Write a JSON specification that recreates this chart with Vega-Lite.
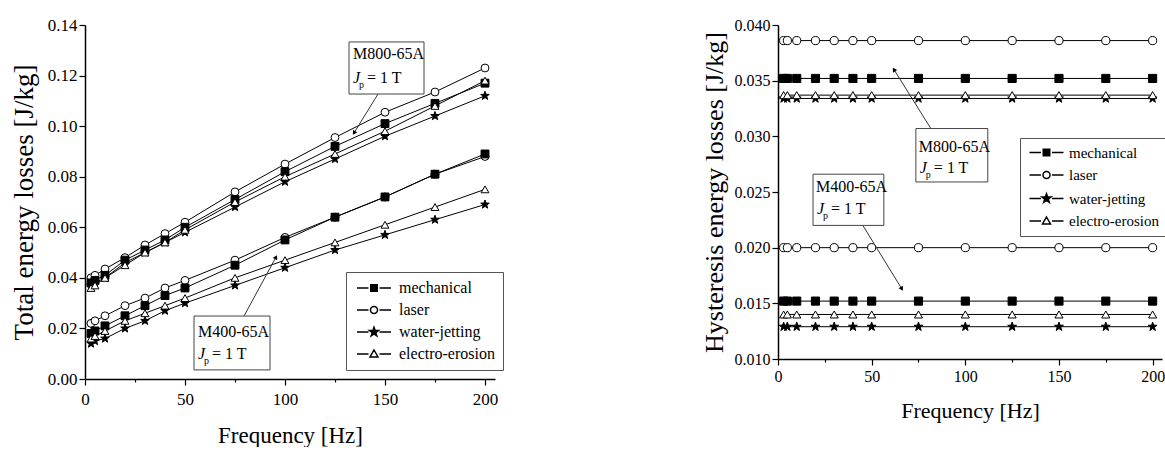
{
  "$schema": "https://vega.github.io/schema/vega-lite/v6.json",
  "padding": {"left": 10, "top": 16, "right": 0, "bottom": 0},
  "spacing": 197,
  "datasets": {
    "total": [
      {"steel":"M800-65A","method":"laser","freq":3,"loss":0.040},
      {"steel":"M800-65A","method":"laser","freq":5,"loss":0.041},
      {"steel":"M800-65A","method":"laser","freq":10,"loss":0.0435},
      {"steel":"M800-65A","method":"laser","freq":20,"loss":0.048},
      {"steel":"M800-65A","method":"laser","freq":30,"loss":0.053},
      {"steel":"M800-65A","method":"laser","freq":40,"loss":0.0575},
      {"steel":"M800-65A","method":"laser","freq":50,"loss":0.062},
      {"steel":"M800-65A","method":"laser","freq":75,"loss":0.074},
      {"steel":"M800-65A","method":"laser","freq":100,"loss":0.085},
      {"steel":"M800-65A","method":"laser","freq":125,"loss":0.0955},
      {"steel":"M800-65A","method":"laser","freq":150,"loss":0.1055},
      {"steel":"M800-65A","method":"laser","freq":175,"loss":0.1135},
      {"steel":"M800-65A","method":"laser","freq":200,"loss":0.123},
      {"steel":"M800-65A","method":"mechanical","freq":3,"loss":0.038},
      {"steel":"M800-65A","method":"mechanical","freq":5,"loss":0.039},
      {"steel":"M800-65A","method":"mechanical","freq":10,"loss":0.041},
      {"steel":"M800-65A","method":"mechanical","freq":20,"loss":0.047},
      {"steel":"M800-65A","method":"mechanical","freq":30,"loss":0.051},
      {"steel":"M800-65A","method":"mechanical","freq":40,"loss":0.055},
      {"steel":"M800-65A","method":"mechanical","freq":50,"loss":0.060},
      {"steel":"M800-65A","method":"mechanical","freq":75,"loss":0.071},
      {"steel":"M800-65A","method":"mechanical","freq":100,"loss":0.082},
      {"steel":"M800-65A","method":"mechanical","freq":125,"loss":0.092},
      {"steel":"M800-65A","method":"mechanical","freq":150,"loss":0.101},
      {"steel":"M800-65A","method":"mechanical","freq":175,"loss":0.109},
      {"steel":"M800-65A","method":"mechanical","freq":200,"loss":0.117},
      {"steel":"M800-65A","method":"water-jetting","freq":3,"loss":0.037},
      {"steel":"M800-65A","method":"water-jetting","freq":5,"loss":0.038},
      {"steel":"M800-65A","method":"water-jetting","freq":10,"loss":0.040},
      {"steel":"M800-65A","method":"water-jetting","freq":20,"loss":0.046},
      {"steel":"M800-65A","method":"water-jetting","freq":30,"loss":0.050},
      {"steel":"M800-65A","method":"water-jetting","freq":40,"loss":0.054},
      {"steel":"M800-65A","method":"water-jetting","freq":50,"loss":0.058},
      {"steel":"M800-65A","method":"water-jetting","freq":75,"loss":0.068},
      {"steel":"M800-65A","method":"water-jetting","freq":100,"loss":0.078},
      {"steel":"M800-65A","method":"water-jetting","freq":125,"loss":0.087},
      {"steel":"M800-65A","method":"water-jetting","freq":150,"loss":0.096},
      {"steel":"M800-65A","method":"water-jetting","freq":175,"loss":0.104},
      {"steel":"M800-65A","method":"water-jetting","freq":200,"loss":0.112},
      {"steel":"M800-65A","method":"electro-erosion","freq":3,"loss":0.036},
      {"steel":"M800-65A","method":"electro-erosion","freq":5,"loss":0.037},
      {"steel":"M800-65A","method":"electro-erosion","freq":10,"loss":0.040},
      {"steel":"M800-65A","method":"electro-erosion","freq":20,"loss":0.045},
      {"steel":"M800-65A","method":"electro-erosion","freq":30,"loss":0.050},
      {"steel":"M800-65A","method":"electro-erosion","freq":40,"loss":0.054},
      {"steel":"M800-65A","method":"electro-erosion","freq":50,"loss":0.059},
      {"steel":"M800-65A","method":"electro-erosion","freq":75,"loss":0.070},
      {"steel":"M800-65A","method":"electro-erosion","freq":100,"loss":0.080},
      {"steel":"M800-65A","method":"electro-erosion","freq":125,"loss":0.089},
      {"steel":"M800-65A","method":"electro-erosion","freq":150,"loss":0.098},
      {"steel":"M800-65A","method":"electro-erosion","freq":175,"loss":0.108},
      {"steel":"M800-65A","method":"electro-erosion","freq":200,"loss":0.118},
      {"steel":"M400-65A","method":"laser","freq":3,"loss":0.022},
      {"steel":"M400-65A","method":"laser","freq":5,"loss":0.023},
      {"steel":"M400-65A","method":"laser","freq":10,"loss":0.025},
      {"steel":"M400-65A","method":"laser","freq":20,"loss":0.029},
      {"steel":"M400-65A","method":"laser","freq":30,"loss":0.032},
      {"steel":"M400-65A","method":"laser","freq":40,"loss":0.036},
      {"steel":"M400-65A","method":"laser","freq":50,"loss":0.039},
      {"steel":"M400-65A","method":"laser","freq":75,"loss":0.047},
      {"steel":"M400-65A","method":"laser","freq":100,"loss":0.056},
      {"steel":"M400-65A","method":"laser","freq":125,"loss":0.064},
      {"steel":"M400-65A","method":"laser","freq":150,"loss":0.072},
      {"steel":"M400-65A","method":"laser","freq":175,"loss":0.081},
      {"steel":"M400-65A","method":"laser","freq":200,"loss":0.088},
      {"steel":"M400-65A","method":"mechanical","freq":3,"loss":0.018},
      {"steel":"M400-65A","method":"mechanical","freq":5,"loss":0.019},
      {"steel":"M400-65A","method":"mechanical","freq":10,"loss":0.021},
      {"steel":"M400-65A","method":"mechanical","freq":20,"loss":0.025},
      {"steel":"M400-65A","method":"mechanical","freq":30,"loss":0.029},
      {"steel":"M400-65A","method":"mechanical","freq":40,"loss":0.033},
      {"steel":"M400-65A","method":"mechanical","freq":50,"loss":0.036},
      {"steel":"M400-65A","method":"mechanical","freq":75,"loss":0.045},
      {"steel":"M400-65A","method":"mechanical","freq":100,"loss":0.055},
      {"steel":"M400-65A","method":"mechanical","freq":125,"loss":0.064},
      {"steel":"M400-65A","method":"mechanical","freq":150,"loss":0.072},
      {"steel":"M400-65A","method":"mechanical","freq":175,"loss":0.081},
      {"steel":"M400-65A","method":"mechanical","freq":200,"loss":0.089},
      {"steel":"M400-65A","method":"water-jetting","freq":3,"loss":0.014},
      {"steel":"M400-65A","method":"water-jetting","freq":5,"loss":0.015},
      {"steel":"M400-65A","method":"water-jetting","freq":10,"loss":0.016},
      {"steel":"M400-65A","method":"water-jetting","freq":20,"loss":0.020},
      {"steel":"M400-65A","method":"water-jetting","freq":30,"loss":0.023},
      {"steel":"M400-65A","method":"water-jetting","freq":40,"loss":0.027},
      {"steel":"M400-65A","method":"water-jetting","freq":50,"loss":0.030},
      {"steel":"M400-65A","method":"water-jetting","freq":75,"loss":0.037},
      {"steel":"M400-65A","method":"water-jetting","freq":100,"loss":0.044},
      {"steel":"M400-65A","method":"water-jetting","freq":125,"loss":0.051},
      {"steel":"M400-65A","method":"water-jetting","freq":150,"loss":0.057},
      {"steel":"M400-65A","method":"water-jetting","freq":175,"loss":0.063},
      {"steel":"M400-65A","method":"water-jetting","freq":200,"loss":0.069},
      {"steel":"M400-65A","method":"electro-erosion","freq":3,"loss":0.016},
      {"steel":"M400-65A","method":"electro-erosion","freq":5,"loss":0.017},
      {"steel":"M400-65A","method":"electro-erosion","freq":10,"loss":0.019},
      {"steel":"M400-65A","method":"electro-erosion","freq":20,"loss":0.023},
      {"steel":"M400-65A","method":"electro-erosion","freq":30,"loss":0.026},
      {"steel":"M400-65A","method":"electro-erosion","freq":40,"loss":0.029},
      {"steel":"M400-65A","method":"electro-erosion","freq":50,"loss":0.032},
      {"steel":"M400-65A","method":"electro-erosion","freq":75,"loss":0.040},
      {"steel":"M400-65A","method":"electro-erosion","freq":100,"loss":0.047},
      {"steel":"M400-65A","method":"electro-erosion","freq":125,"loss":0.054},
      {"steel":"M400-65A","method":"electro-erosion","freq":150,"loss":0.061},
      {"steel":"M400-65A","method":"electro-erosion","freq":175,"loss":0.068},
      {"steel":"M400-65A","method":"electro-erosion","freq":200,"loss":0.075}
    ],
    "hysteresis": [
      {"steel":"M800-65A","method":"laser","freq":3,"loss":0.0386},
      {"steel":"M800-65A","method":"laser","freq":5,"loss":0.0386},
      {"steel":"M800-65A","method":"laser","freq":10,"loss":0.0386},
      {"steel":"M800-65A","method":"laser","freq":20,"loss":0.0386},
      {"steel":"M800-65A","method":"laser","freq":30,"loss":0.0386},
      {"steel":"M800-65A","method":"laser","freq":40,"loss":0.0386},
      {"steel":"M800-65A","method":"laser","freq":50,"loss":0.0386},
      {"steel":"M800-65A","method":"laser","freq":75,"loss":0.0386},
      {"steel":"M800-65A","method":"laser","freq":100,"loss":0.0386},
      {"steel":"M800-65A","method":"laser","freq":125,"loss":0.0386},
      {"steel":"M800-65A","method":"laser","freq":150,"loss":0.0386},
      {"steel":"M800-65A","method":"laser","freq":175,"loss":0.0386},
      {"steel":"M800-65A","method":"laser","freq":200,"loss":0.0386},
      {"steel":"M800-65A","method":"mechanical","freq":3,"loss":0.0352},
      {"steel":"M800-65A","method":"mechanical","freq":5,"loss":0.0352},
      {"steel":"M800-65A","method":"mechanical","freq":10,"loss":0.0352},
      {"steel":"M800-65A","method":"mechanical","freq":20,"loss":0.0352},
      {"steel":"M800-65A","method":"mechanical","freq":30,"loss":0.0352},
      {"steel":"M800-65A","method":"mechanical","freq":40,"loss":0.0352},
      {"steel":"M800-65A","method":"mechanical","freq":50,"loss":0.0352},
      {"steel":"M800-65A","method":"mechanical","freq":75,"loss":0.0352},
      {"steel":"M800-65A","method":"mechanical","freq":100,"loss":0.0352},
      {"steel":"M800-65A","method":"mechanical","freq":125,"loss":0.0352},
      {"steel":"M800-65A","method":"mechanical","freq":150,"loss":0.0352},
      {"steel":"M800-65A","method":"mechanical","freq":175,"loss":0.0352},
      {"steel":"M800-65A","method":"mechanical","freq":200,"loss":0.0352},
      {"steel":"M800-65A","method":"water-jetting","freq":3,"loss":0.0334},
      {"steel":"M800-65A","method":"water-jetting","freq":5,"loss":0.0334},
      {"steel":"M800-65A","method":"water-jetting","freq":10,"loss":0.0334},
      {"steel":"M800-65A","method":"water-jetting","freq":20,"loss":0.0334},
      {"steel":"M800-65A","method":"water-jetting","freq":30,"loss":0.0334},
      {"steel":"M800-65A","method":"water-jetting","freq":40,"loss":0.0334},
      {"steel":"M800-65A","method":"water-jetting","freq":50,"loss":0.0334},
      {"steel":"M800-65A","method":"water-jetting","freq":75,"loss":0.0334},
      {"steel":"M800-65A","method":"water-jetting","freq":100,"loss":0.0334},
      {"steel":"M800-65A","method":"water-jetting","freq":125,"loss":0.0334},
      {"steel":"M800-65A","method":"water-jetting","freq":150,"loss":0.0334},
      {"steel":"M800-65A","method":"water-jetting","freq":175,"loss":0.0334},
      {"steel":"M800-65A","method":"water-jetting","freq":200,"loss":0.0334},
      {"steel":"M800-65A","method":"electro-erosion","freq":3,"loss":0.0337},
      {"steel":"M800-65A","method":"electro-erosion","freq":5,"loss":0.0337},
      {"steel":"M800-65A","method":"electro-erosion","freq":10,"loss":0.0337},
      {"steel":"M800-65A","method":"electro-erosion","freq":20,"loss":0.0337},
      {"steel":"M800-65A","method":"electro-erosion","freq":30,"loss":0.0337},
      {"steel":"M800-65A","method":"electro-erosion","freq":40,"loss":0.0337},
      {"steel":"M800-65A","method":"electro-erosion","freq":50,"loss":0.0337},
      {"steel":"M800-65A","method":"electro-erosion","freq":75,"loss":0.0337},
      {"steel":"M800-65A","method":"electro-erosion","freq":100,"loss":0.0337},
      {"steel":"M800-65A","method":"electro-erosion","freq":125,"loss":0.0337},
      {"steel":"M800-65A","method":"electro-erosion","freq":150,"loss":0.0337},
      {"steel":"M800-65A","method":"electro-erosion","freq":175,"loss":0.0337},
      {"steel":"M800-65A","method":"electro-erosion","freq":200,"loss":0.0337},
      {"steel":"M400-65A","method":"laser","freq":3,"loss":0.0200},
      {"steel":"M400-65A","method":"laser","freq":5,"loss":0.0200},
      {"steel":"M400-65A","method":"laser","freq":10,"loss":0.0200},
      {"steel":"M400-65A","method":"laser","freq":20,"loss":0.0200},
      {"steel":"M400-65A","method":"laser","freq":30,"loss":0.0200},
      {"steel":"M400-65A","method":"laser","freq":40,"loss":0.0200},
      {"steel":"M400-65A","method":"laser","freq":50,"loss":0.0200},
      {"steel":"M400-65A","method":"laser","freq":75,"loss":0.0200},
      {"steel":"M400-65A","method":"laser","freq":100,"loss":0.0200},
      {"steel":"M400-65A","method":"laser","freq":125,"loss":0.0200},
      {"steel":"M400-65A","method":"laser","freq":150,"loss":0.0200},
      {"steel":"M400-65A","method":"laser","freq":175,"loss":0.0200},
      {"steel":"M400-65A","method":"laser","freq":200,"loss":0.0200},
      {"steel":"M400-65A","method":"mechanical","freq":3,"loss":0.0152},
      {"steel":"M400-65A","method":"mechanical","freq":5,"loss":0.0152},
      {"steel":"M400-65A","method":"mechanical","freq":10,"loss":0.0152},
      {"steel":"M400-65A","method":"mechanical","freq":20,"loss":0.0152},
      {"steel":"M400-65A","method":"mechanical","freq":30,"loss":0.0152},
      {"steel":"M400-65A","method":"mechanical","freq":40,"loss":0.0152},
      {"steel":"M400-65A","method":"mechanical","freq":50,"loss":0.0152},
      {"steel":"M400-65A","method":"mechanical","freq":75,"loss":0.0152},
      {"steel":"M400-65A","method":"mechanical","freq":100,"loss":0.0152},
      {"steel":"M400-65A","method":"mechanical","freq":125,"loss":0.0152},
      {"steel":"M400-65A","method":"mechanical","freq":150,"loss":0.0152},
      {"steel":"M400-65A","method":"mechanical","freq":175,"loss":0.0152},
      {"steel":"M400-65A","method":"mechanical","freq":200,"loss":0.0152},
      {"steel":"M400-65A","method":"water-jetting","freq":3,"loss":0.0129},
      {"steel":"M400-65A","method":"water-jetting","freq":5,"loss":0.0129},
      {"steel":"M400-65A","method":"water-jetting","freq":10,"loss":0.0129},
      {"steel":"M400-65A","method":"water-jetting","freq":20,"loss":0.0129},
      {"steel":"M400-65A","method":"water-jetting","freq":30,"loss":0.0129},
      {"steel":"M400-65A","method":"water-jetting","freq":40,"loss":0.0129},
      {"steel":"M400-65A","method":"water-jetting","freq":50,"loss":0.0129},
      {"steel":"M400-65A","method":"water-jetting","freq":75,"loss":0.0129},
      {"steel":"M400-65A","method":"water-jetting","freq":100,"loss":0.0129},
      {"steel":"M400-65A","method":"water-jetting","freq":125,"loss":0.0129},
      {"steel":"M400-65A","method":"water-jetting","freq":150,"loss":0.0129},
      {"steel":"M400-65A","method":"water-jetting","freq":175,"loss":0.0129},
      {"steel":"M400-65A","method":"water-jetting","freq":200,"loss":0.0129},
      {"steel":"M400-65A","method":"electro-erosion","freq":3,"loss":0.0140},
      {"steel":"M400-65A","method":"electro-erosion","freq":5,"loss":0.0140},
      {"steel":"M400-65A","method":"electro-erosion","freq":10,"loss":0.0140},
      {"steel":"M400-65A","method":"electro-erosion","freq":20,"loss":0.0140},
      {"steel":"M400-65A","method":"electro-erosion","freq":30,"loss":0.0140},
      {"steel":"M400-65A","method":"electro-erosion","freq":40,"loss":0.0140},
      {"steel":"M400-65A","method":"electro-erosion","freq":50,"loss":0.0140},
      {"steel":"M400-65A","method":"electro-erosion","freq":75,"loss":0.0140},
      {"steel":"M400-65A","method":"electro-erosion","freq":100,"loss":0.0140},
      {"steel":"M400-65A","method":"electro-erosion","freq":125,"loss":0.0140},
      {"steel":"M400-65A","method":"electro-erosion","freq":150,"loss":0.0140},
      {"steel":"M400-65A","method":"electro-erosion","freq":175,"loss":0.0140},
      {"steel":"M400-65A","method":"electro-erosion","freq":200,"loss":0.0140}
    ],
    "notesTotal": [
      {"steel":"M800-65A","bx1":132,"bx2":169.5,"by1":0.1127,"by2":0.1333,"ty1":0.1285,"ty2":0.119,"ax1":146.5,"ay1":0.1127,"ax2":134.5,"ay2":0.0973},
      {"steel":"M400-65A","bx1":54.5,"bx2":92.5,"by1":0.0036,"by2":0.0249,"ty1":0.0186,"ty2":0.0099,"ax1":79.5,"ay1":0.0249,"ax2":95.5,"ay2":0.0482}
    ],
    "notesHyst": [
      {"steel":"M800-65A","bx1":73.6,"bx2":112,"by1":0.0259,"by2":0.0307,"ty1":0.0290,"ty2":0.0272,"ax1":81.6,"ay1":0.0307,"ax2":61.9,"ay2":0.0360},
      {"steel":"M400-65A","bx1":18.7,"bx2":56.5,"by1":0.0220,"by2":0.0266,"ty1":0.02545,"ty2":0.0235,"ax1":45.3,"ay1":0.0220,"ax2":66.1,"ay2":0.0163}
    ]
  },
  "hconcat": [
    {
      "width": 410,
      "height": 354,
      "resolve": {
        "scale": {"shape": "independent", "fill": "independent"},
        "legend": {"shape": "independent", "fill": "independent"}
      },
      "layer": [
        {
          "data": {"name": "total"},
          "mark": {"type": "line", "color": "black", "strokeWidth": 1},
          "encoding": {
            "x": {
              "field": "freq", "type": "quantitative",
              "scale": {"domain": [0, 205], "nice": false, "zero": false},
              "axis": {
                "title": "Frequency [Hz]",
                "values": [0, 25, 50, 75, 100, 125, 150, 175, 200],
                "labelExpr": "datum.value % 50 === 0 ? datum.label : ''",
                "tickSize": {"condition": {"test": "datum.value % 50 !== 0", "value": 3}, "value": 6},
                "labelFont": "Liberation Serif", "titleFont": "Liberation Serif",
                "labelFontSize": 17, "titleFontSize": 23, "labelPadding": 6, "titlePadding": 17
              }
            },
            "y": {
              "field": "loss", "type": "quantitative",
              "scale": {"domain": [0, 0.14], "nice": false},
              "axis": {
                "title": "Total energy losses [J/kg]",
                "values": [0, 0.01, 0.02, 0.03, 0.04, 0.05, 0.06, 0.07, 0.08, 0.09, 0.1, 0.11, 0.12, 0.13, 0.14],
                "labelExpr": "round(datum.value * 100) % 2 === 0 ? format(datum.value, '.2f') : ''",
                "tickSize": {"condition": {"test": "round(datum.value * 100) % 2 !== 0", "value": 3}, "value": 6},
                "labelFont": "Liberation Serif", "titleFont": "Liberation Serif",
                "labelFontSize": 17, "titleFontSize": 27, "labelPadding": 2, "titlePadding": 9
              }
            },
            "detail": [{"field": "steel"}, {"field": "method"}]
          }
        },
        {
          "data": {"name": "total"},
          "mark": {"type": "point", "filled": true, "stroke": "black", "strokeWidth": 1, "opacity": 1, "size": 62},
          "encoding": {
            "x": {"field": "freq", "type": "quantitative"},
            "y": {"field": "loss", "type": "quantitative"},
            "shape": {
              "field": "method", "type": "nominal",
              "scale": {
                "domain": ["mechanical", "laser", "water-jetting", "electro-erosion"],
                "range": ["square", "circle", "M0,-1.15L0.27,-0.37L1.09,-0.36L0.44,0.14L0.68,0.93L0,0.46L-0.68,0.93L-0.44,0.14L-1.09,-0.36L-0.27,-0.37Z", "triangle-up"]
              },
              "legend": null
            },
            "fill": {
              "field": "method", "type": "nominal",
              "scale": {"domain": ["mechanical", "laser", "water-jetting", "electro-erosion"], "range": ["black", "white", "black", "white"]},
              "legend": null
            }
          }
        },
        {
          "data": {"name": "total"},
          "mark": {"type": "point", "filled": true, "stroke": "black", "strokeWidth": 1, "opacity": 0},
          "encoding": {
            "x": {"field": "freq", "type": "quantitative"},
            "y": {"field": "loss", "type": "quantitative"},
            "shape": {
              "field": "method", "type": "nominal",
              "scale": {
                "domain": ["mechanical", "laser", "water-jetting", "electro-erosion"],
                "range": [
                  "M-3.4,0H-1.1M1.1,0H3.4M-0.65,-0.65H0.65V0.65H-0.65Z",
                  "M-3.4,0H-1.1M1.1,0H3.4M-0.7,0C-0.7,-0.387 -0.387,-0.7 0,-0.7C0.387,-0.7 0.7,-0.387 0.7,0C0.7,0.387 0.387,0.7 0,0.7C-0.387,0.7 -0.7,0.387 -0.7,0Z",
                  "M-3.4,0H-1.1M1.1,0H3.4M0,-0.95L0.22,-0.3L0.9,-0.29L0.36,0.12L0.56,0.77L0,0.38L-0.56,0.77L-0.36,0.12L-0.9,-0.29L-0.22,-0.3Z",
                  "M-3.4,0H-1.1M1.1,0H3.4M0,-0.8L0.8,0.6H-0.8Z"
                ]
              },
              "legend": {
                "title": null, "orient": "none", "legendX": 261, "legendY": 247,
                "padding": 8, "strokeColor": "#555", "fillColor": "white",
                "labelFont": "Liberation Serif", "labelFontSize": 16, "labelColor": "black",
                "symbolSize": 100, "symbolOffset": 12, "labelOffset": 17, "rowPadding": 6,
                "symbolOpacity": 1
              }
            },
            "fill": {
              "field": "method", "type": "nominal",
              "scale": {"domain": ["mechanical", "laser", "water-jetting", "electro-erosion"], "range": ["black", "white", "black", "white"]},
              "legend": {
                "title": null, "orient": "none", "legendX": 261, "legendY": 247,
                "padding": 8, "strokeColor": "#555", "fillColor": "white",
                "labelFont": "Liberation Serif", "labelFontSize": 16, "labelColor": "black",
                "symbolSize": 100, "symbolOffset": 12, "labelOffset": 17, "rowPadding": 6,
                "symbolOpacity": 1
              }
            }
          }
        },
        {
          "data": {"name": "notesTotal"},
          "mark": {"type": "rule", "color": "#333", "strokeWidth": 1},
          "encoding": {
            "x": {"field": "ax1", "type": "quantitative"},
            "y": {"field": "ay1", "type": "quantitative"},
            "x2": {"field": "ax2"},
            "y2": {"field": "ay2"}
          }
        },
        {
          "data": {"name": "notesTotal"},
          "transform": [{"filter": "datum.steel === 'M800-65A'"}],
          "mark": {"type": "point", "shape": "triangle-up", "filled": true, "color": "black", "size": 25, "angle": 211.6, "opacity": 1},
          "encoding": {
            "x": {"field": "ax2", "type": "quantitative"},
            "y": {"field": "ay2", "type": "quantitative"}
          }
        },
        {
          "data": {"name": "notesTotal"},
          "transform": [{"filter": "datum.steel === 'M400-65A'"}],
          "mark": {"type": "point", "shape": "triangle-up", "filled": true, "color": "black", "size": 25, "angle": 28.5, "opacity": 1},
          "encoding": {
            "x": {"field": "ax2", "type": "quantitative"},
            "y": {"field": "ay2", "type": "quantitative"}
          }
        },
        {
          "data": {"name": "notesTotal"},
          "mark": {"type": "rect", "fill": "white", "stroke": "#444", "strokeWidth": 1},
          "encoding": {
            "x": {"field": "bx1", "type": "quantitative"},
            "x2": {"field": "bx2"},
            "y": {"field": "by1", "type": "quantitative"},
            "y2": {"field": "by2"}
          }
        },
        {
          "data": {"name": "notesTotal"},
          "mark": {"type": "text", "align": "left", "baseline": "middle", "dx": 4, "font": "Liberation Serif", "fontSize": 16, "color": "black"},
          "encoding": {
            "x": {"field": "bx1", "type": "quantitative"},
            "y": {"field": "ty1", "type": "quantitative"},
            "text": {"field": "steel"}
          }
        },
        {
          "data": {"name": "notesTotal"},
          "mark": {"type": "text", "align": "left", "baseline": "middle", "dx": 4, "font": "Liberation Serif", "fontSize": 16, "fontStyle": "italic", "color": "black", "text": "J"},
          "encoding": {
            "x": {"field": "bx1", "type": "quantitative"},
            "y": {"field": "ty2", "type": "quantitative"}
          }
        },
        {
          "data": {"name": "notesTotal"},
          "mark": {"type": "text", "align": "left", "baseline": "middle", "dx": 10, "dy": 7, "font": "Liberation Serif", "fontSize": 10, "color": "black", "text": "p"},
          "encoding": {
            "x": {"field": "bx1", "type": "quantitative"},
            "y": {"field": "ty2", "type": "quantitative"}
          }
        },
        {
          "data": {"name": "notesTotal"},
          "mark": {"type": "text", "align": "left", "baseline": "middle", "dx": 18, "font": "Liberation Serif", "fontSize": 16, "color": "black", "text": "= 1 T"},
          "encoding": {
            "x": {"field": "bx1", "type": "quantitative"},
            "y": {"field": "ty2", "type": "quantitative"}
          }
        }
      ]
    },
    {
      "width": 384,
      "height": 334,
      "resolve": {
        "scale": {"shape": "independent", "fill": "independent"},
        "legend": {"shape": "independent", "fill": "independent"}
      },
      "layer": [
        {
          "data": {"name": "hysteresis"},
          "mark": {"type": "line", "color": "black", "strokeWidth": 1},
          "encoding": {
            "x": {
              "field": "freq", "type": "quantitative",
              "scale": {"domain": [0, 205], "nice": false, "zero": false},
              "axis": {
                "title": "Frequency [Hz]",
                "values": [0, 25, 50, 75, 100, 125, 150, 175, 200],
                "labelExpr": "datum.value % 50 === 0 ? datum.label : ''",
                "tickSize": {"condition": {"test": "datum.value % 50 !== 0", "value": 3}, "value": 6},
                "labelFont": "Liberation Serif", "titleFont": "Liberation Serif",
                "labelFontSize": 16, "titleFontSize": 22, "labelPadding": 3, "titlePadding": 16
              }
            },
            "y": {
              "field": "loss", "type": "quantitative",
              "scale": {"domain": [0.01, 0.04], "nice": false, "zero": false},
              "axis": {
                "title": "Hysteresis energy losses [J/kg]",
                "values": [0.01, 0.0125, 0.015, 0.0175, 0.02, 0.0225, 0.025, 0.0275, 0.03, 0.0325, 0.035, 0.0375, 0.04],
                "labelExpr": "round(datum.value * 2000) % 10 === 0 ? format(datum.value, '.3f') : ''",
                "tickSize": {"condition": {"test": "round(datum.value * 2000) % 10 !== 0", "value": 3}, "value": 6},
                "labelFont": "Liberation Serif", "titleFont": "Liberation Serif",
                "labelFontSize": 16, "titleFontSize": 26, "labelPadding": 2, "titlePadding": 7
              }
            },
            "detail": [{"field": "steel"}, {"field": "method"}]
          }
        },
        {
          "data": {"name": "hysteresis"},
          "mark": {"type": "point", "filled": true, "stroke": "black", "strokeWidth": 1, "opacity": 1, "size": 66},
          "encoding": {
            "x": {"field": "freq", "type": "quantitative"},
            "y": {"field": "loss", "type": "quantitative"},
            "shape": {
              "field": "method", "type": "nominal",
              "scale": {
                "domain": ["mechanical", "laser", "water-jetting", "electro-erosion"],
                "range": ["square", "circle", "M0,-1.15L0.27,-0.37L1.09,-0.36L0.44,0.14L0.68,0.93L0,0.46L-0.68,0.93L-0.44,0.14L-1.09,-0.36L-0.27,-0.37Z", "triangle-up"]
              },
              "legend": null
            },
            "fill": {
              "field": "method", "type": "nominal",
              "scale": {"domain": ["mechanical", "laser", "water-jetting", "electro-erosion"], "range": ["black", "white", "black", "white"]},
              "legend": null
            }
          }
        },
        {
          "data": {"name": "hysteresis"},
          "mark": {"type": "point", "filled": true, "stroke": "black", "strokeWidth": 1, "opacity": 0},
          "encoding": {
            "x": {"field": "freq", "type": "quantitative"},
            "y": {"field": "loss", "type": "quantitative"},
            "shape": {
              "field": "method", "type": "nominal",
              "scale": {
                "domain": ["mechanical", "laser", "water-jetting", "electro-erosion"],
                "range": [
                  "M-3.4,0H-1.1M1.1,0H3.4M-0.65,-0.65H0.65V0.65H-0.65Z",
                  "M-3.4,0H-1.1M1.1,0H3.4M-0.7,0C-0.7,-0.387 -0.387,-0.7 0,-0.7C0.387,-0.7 0.7,-0.387 0.7,0C0.7,0.387 0.387,0.7 0,0.7C-0.387,0.7 -0.7,0.387 -0.7,0Z",
                  "M-3.4,0H-1.1M1.1,0H3.4M0,-0.95L0.22,-0.3L0.9,-0.29L0.36,0.12L0.56,0.77L0,0.38L-0.56,0.77L-0.36,0.12L-0.9,-0.29L-0.22,-0.3Z",
                  "M-3.4,0H-1.1M1.1,0H3.4M0,-0.8L0.8,0.6H-0.8Z"
                ]
              },
              "legend": {
                "title": null, "orient": "none", "legendX": 242, "legendY": 113,
                "padding": 7, "strokeColor": "#555", "fillColor": "white",
                "labelFont": "Liberation Serif", "labelFontSize": 15, "labelColor": "black",
                "symbolSize": 100, "symbolOffset": 12, "labelOffset": 15, "rowPadding": 6.5,
                "symbolOpacity": 1
              }
            },
            "fill": {
              "field": "method", "type": "nominal",
              "scale": {"domain": ["mechanical", "laser", "water-jetting", "electro-erosion"], "range": ["black", "white", "black", "white"]},
              "legend": {
                "title": null, "orient": "none", "legendX": 242, "legendY": 113,
                "padding": 7, "strokeColor": "#555", "fillColor": "white",
                "labelFont": "Liberation Serif", "labelFontSize": 15, "labelColor": "black",
                "symbolSize": 100, "symbolOffset": 12, "labelOffset": 15, "rowPadding": 6.5,
                "symbolOpacity": 1
              }
            }
          }
        },
        {
          "data": {"name": "notesHyst"},
          "mark": {"type": "rule", "color": "#333", "strokeWidth": 1},
          "encoding": {
            "x": {"field": "ax1", "type": "quantitative"},
            "y": {"field": "ay1", "type": "quantitative"},
            "x2": {"field": "ax2"},
            "y2": {"field": "ay2"}
          }
        },
        {
          "data": {"name": "notesHyst"},
          "transform": [{"filter": "datum.steel === 'M800-65A'"}],
          "mark": {"type": "point", "shape": "triangle-up", "filled": true, "color": "black", "size": 25, "angle": 328.3, "opacity": 1},
          "encoding": {
            "x": {"field": "ax2", "type": "quantitative"},
            "y": {"field": "ay2", "type": "quantitative"}
          }
        },
        {
          "data": {"name": "notesHyst"},
          "transform": [{"filter": "datum.steel === 'M400-65A'"}],
          "mark": {"type": "point", "shape": "triangle-up", "filled": true, "color": "black", "size": 25, "angle": 148.6, "opacity": 1},
          "encoding": {
            "x": {"field": "ax2", "type": "quantitative"},
            "y": {"field": "ay2", "type": "quantitative"}
          }
        },
        {
          "data": {"name": "notesHyst"},
          "mark": {"type": "rect", "fill": "white", "stroke": "#444", "strokeWidth": 1},
          "encoding": {
            "x": {"field": "bx1", "type": "quantitative"},
            "x2": {"field": "bx2"},
            "y": {"field": "by1", "type": "quantitative"},
            "y2": {"field": "by2"}
          }
        },
        {
          "data": {"name": "notesHyst"},
          "mark": {"type": "text", "align": "left", "baseline": "middle", "dx": 3, "font": "Liberation Serif", "fontSize": 16, "color": "black"},
          "encoding": {
            "x": {"field": "bx1", "type": "quantitative"},
            "y": {"field": "ty1", "type": "quantitative"},
            "text": {"field": "steel"}
          }
        },
        {
          "data": {"name": "notesHyst"},
          "mark": {"type": "text", "align": "left", "baseline": "middle", "dx": 4, "font": "Liberation Serif", "fontSize": 16, "fontStyle": "italic", "color": "black", "text": "J"},
          "encoding": {
            "x": {"field": "bx1", "type": "quantitative"},
            "y": {"field": "ty2", "type": "quantitative"}
          }
        },
        {
          "data": {"name": "notesHyst"},
          "mark": {"type": "text", "align": "left", "baseline": "middle", "dx": 10, "dy": 7, "font": "Liberation Serif", "fontSize": 10, "color": "black", "text": "p"},
          "encoding": {
            "x": {"field": "bx1", "type": "quantitative"},
            "y": {"field": "ty2", "type": "quantitative"}
          }
        },
        {
          "data": {"name": "notesHyst"},
          "mark": {"type": "text", "align": "left", "baseline": "middle", "dx": 18, "font": "Liberation Serif", "fontSize": 16, "color": "black", "text": "= 1 T"},
          "encoding": {
            "x": {"field": "bx1", "type": "quantitative"},
            "y": {"field": "ty2", "type": "quantitative"}
          }
        }
      ]
    }
  ],
  "resolve": {
    "scale": {"shape": "independent", "fill": "independent", "x": "independent", "y": "independent"},
    "legend": {"shape": "independent", "fill": "independent"}
  },
  "config": {
    "font": "Liberation Serif",
    "view": {"stroke": null},
    "axis": {
      "grid": false,
      "domainColor": "black",
      "domainWidth": 1.5,
      "tickColor": "black",
      "tickWidth": 1.2,
      "labelColor": "black",
      "titleColor": "black",
      "labelFont": "Liberation Serif",
      "titleFont": "Liberation Serif",
      "titleFontWeight": "normal",
      "labelFlush": false,
      "labelOverlap": false
    },
    "legend": {"labelFont": "Liberation Serif"},
    "text": {"font": "Liberation Serif"}
  }
}
